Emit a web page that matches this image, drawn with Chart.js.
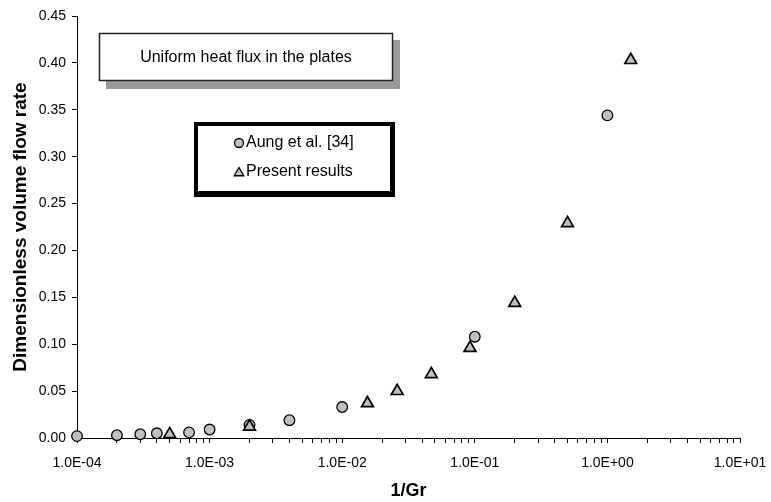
<!DOCTYPE html>
<html><head><meta charset="utf-8">
<script src="https://cdn.jsdelivr.net/npm/chart.js@4.4.1/dist/chart.umd.min.js"></script>
<style>html,body{margin:0;padding:0;background:#fff}#wrap{width:771px;height:502px;position:relative}</style>
</head><body><div id="wrap"><canvas id="c" width="771" height="502"></canvas></div>
<script>
// ---- data ----
const aungX = [1e-4, 2e-4, 3e-4, 4e-4, 7e-4, 1e-3, 2e-3, 4e-3, 1e-2, 1e-1, 1];
const aungY = [0.002, 0.003, 0.004, 0.005, 0.006, 0.009, 0.014, 0.019, 0.033, 0.108, 0.344];
const presX = [5e-4, 2e-3, 1.55e-2, 2.6e-2, 4.7e-2, 9.2e-2, 0.2, 0.5, 1.5];
const presY = [0.004, 0.012, 0.037, 0.050, 0.068, 0.096, 0.144, 0.229, 0.403];
const xDecades = [-4, -3, -2, -1, 0, 1];
const yTickValues = [0, 0.05, 0.10, 0.15, 0.20, 0.25, 0.30, 0.35, 0.40, 0.45];
const seriesNames = ['Aung et al. [34]', 'Present results'];
const noteText = 'Uniform heat flux in the plates';
const xTitle = '1/Gr';
const yTitle = 'Dimensionless volume flow rate';

const FONT = "'Liberation Sans', Arial, Helvetica, sans-serif";
const FILL = '#c0c0c0';

function toPts(xs, ys) { return xs.map((x, i) => ({x: x, y: ys[i]})); }

function expLabel(v) {
  const e = Math.log10(v), r = Math.round(e);
  if (Math.abs(e - r) > 1e-9) return '';
  return '1.0E' + (r < 0 ? '-' : '+') + String(Math.abs(r)).padStart(2, '0');
}

const boxesPlugin = {
  id: 'boxes',
  afterDraw(chart) {
    const ctx = chart.ctx;
    ctx.save();
    // note box with grey drop shadow
    ctx.fillStyle = '#999999';
    ctx.fillRect(106, 40, 294, 49);
    ctx.fillStyle = '#ffffff';
    ctx.fillRect(99, 33, 294, 48);
    ctx.strokeStyle = '#222222';
    ctx.lineWidth = 1.5;
    ctx.strokeRect(99.5, 33.5, 293, 47);
    ctx.fillStyle = '#000';
    ctx.font = '16px ' + FONT;
    ctx.textAlign = 'center';
    ctx.textBaseline = 'middle';
    ctx.fillText(noteText, 246, 58);

    // legend box: thick black frame, heavier right/bottom edge
    ctx.fillStyle = '#000';
    ctx.fillRect(194, 122, 201, 75);
    ctx.fillStyle = '#fff';
    ctx.fillRect(198, 126, 192, 65);
    const ds = chart.data.datasets;
    const rows = [143, 172];
    ds.forEach((d, i) => {
      const st = {pointStyle: d.pointStyle, radius: i === 0 ? 4.5 : 5.5, rotation: 0, borderWidth: 1.2};
      ctx.fillStyle = FILL;
      ctx.strokeStyle = '#000';
      ctx.lineWidth = 1.3;
      Chart.helpers.drawPoint(ctx, st, 239, rows[i] + (i === 1 ? 1 : 0));
      ctx.fillStyle = '#000';
      ctx.font = '16px ' + FONT;
      ctx.textAlign = 'left';
      ctx.textBaseline = 'middle';
      ctx.fillText(d.label, 246, rows[i]);
    });
    ctx.restore();
  }
};

new Chart(document.getElementById('c'), {
  type: 'scatter',
  data: {
    datasets: [
      {label: seriesNames[0], data: toPts(aungX, aungY), pointStyle: 'circle', pointRadius: 5.3, order: 1,
       pointHoverRadius: 5.3, backgroundColor: FILL, borderColor: '#000', pointBorderWidth: 1.3, clip: false},
      {label: seriesNames[1], data: toPts(presX, presY), pointStyle: 'triangle', pointRadius: 6.8, order: 0,
       pointHoverRadius: 6.8, backgroundColor: FILL, borderColor: '#000', pointBorderWidth: 1.7, clip: false}
    ]
  },
  options: {
    responsive: false,
    animation: false,
    events: [],
    layout: {padding: {top: 16, right: 31, left: 0, bottom: 0}},
    plugins: {legend: {display: false}, tooltip: {enabled: false}, title: {display: false}},
    scales: {
      x: {
        type: 'logarithmic', min: 1e-4, max: 10,
        afterBuildTicks(scale) {
          const t = [];
          xDecades.forEach(e => {
            if (e === xDecades[xDecades.length - 1]) { t.push({value: Math.pow(10, e)}); return; }
            for (let k = 1; k <= 9; k++) t.push({value: k * Math.pow(10, e)});
          });
          scale.ticks = t;
        },
        afterFit(scale) { scale.height = 64; scale.paddingLeft = 0; scale.paddingRight = 0; },
        grid: {display: true, drawOnChartArea: false, drawTicks: true, tickLength: 5, color: '#000', lineWidth: 1},
        border: {display: true, color: '#000', width: 1},
        ticks: {autoSkip: false, maxRotation: 0, minRotation: 0, padding: 12, color: '#000',
                font: {family: FONT, size: 14}, callback: v => expLabel(v)},
        title: {display: true, text: xTitle, color: '#000', font: {family: FONT, size: 18, weight: 'bold'},
                padding: {top: 0, bottom: 0}}
      },
      y: {
        min: 0, max: 0.45,
        afterBuildTicks(scale) { scale.ticks = yTickValues.map(v => ({value: v})); },
        afterFit(scale) { scale.width = 77; scale.paddingTop = 0; scale.paddingBottom = 0; },
        grid: {display: true, drawOnChartArea: false, drawTicks: true, tickLength: 5, color: '#000', lineWidth: 1},
        border: {display: true, color: '#000', width: 1},
        ticks: {padding: 6, color: '#000', font: {family: FONT, size: 14}, callback: v => v.toFixed(2)},
        title: {display: true, text: yTitle, color: '#000', font: {family: FONT, size: 19, weight: 'bold'},
                padding: {top: 9, bottom: 0}}
      }
    }
  },
  plugins: [boxesPlugin]
});
</script>
</body></html>
